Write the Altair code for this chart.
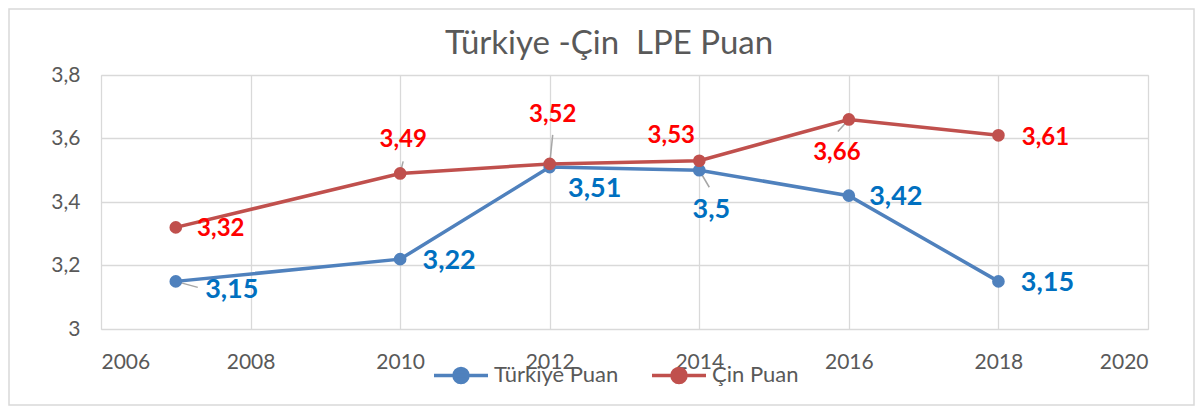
import altair as alt
import pandas as pd

years = [2007, 2010, 2012, 2014, 2016, 2018]
turkiye = [3.15, 3.22, 3.51, 3.50, 3.42, 3.15]
cin = [3.32, 3.49, 3.52, 3.53, 3.66, 3.61]
series_names = ["Türkiye Puan", "Çin Puan"]
x_ticks = [2006, 2008, 2010, 2012, 2014, 2016, 2018, 2020]
y_ticks = [3.0, 3.2, 3.4, 3.6, 3.8]
title_text = "Türkiye -Çin\u00a0 LPE Puan"

line_colors = ["#4F81BD", "#C0504D"]
label_colors = ["#0070C0", "#FF0000"]

rows = []
for s, vals in zip(series_names, [turkiye, cin]):
    for y, v in zip(years, vals):
        rows.append({"year": y, "value": v, "series": s,
                     "label": f"{v:g}".replace(".", ",")})
df = pd.DataFrame(rows)

W, H = 1047, 254
PL, PT, PR, PB = 93, 67, 47, 77

xs = alt.Scale(domain=[2006, 2020], nice=False, zero=False)
ys = alt.Scale(domain=[3.0, 3.8], nice=False, zero=False)
cs = alt.Scale(domain=series_names, range=line_colors)

X = alt.X("year:Q", scale=xs, axis=alt.Axis(values=x_ticks, format="d", title=None,
          labelFontSize=21, labelColor="#595959", labelFont="Lato", domain=False,
          ticks=False, labelPadding=22, gridColor="#d9d9d9", gridWidth=1.3))
Y = alt.Y("value:Q", scale=ys, axis=alt.Axis(values=y_ticks, title=None,
          labelExpr="replace(format(datum.value, '~g'), '.', ',')",
          labelFontSize=21, labelColor="#595959", labelFont="Lato", domain=False,
          ticks=False, labelPadding=21, gridColor="#d9d9d9", gridWidth=1.3))

base = alt.Chart(df)

legend_path = "M-1,0L1,0M-0.26,0A0.26,0.26,0,1,1,0.26,0A0.26,0.26,0,1,1,-0.26,0Z"

lines = base.mark_line(strokeWidth=3.5).encode(
    x=X, y=Y,
    color=alt.Color("series:N", scale=cs, sort=series_names, legend=alt.Legend(
        title=None, orient="none", legendX=331, legendY=271, direction="horizontal",
        symbolType=legend_path, symbolSize=2916, symbolStrokeWidth=3.5,
        labelFontSize=22, labelColor="#595959", labelFont="Lato", labelOffset=4,
        columnPadding=26, padding=0)),
    detail="series:N",
)
points = base.mark_point(filled=True, size=160, opacity=1).encode(
    x="year:Q", y="value:Q",
    color=alt.Color("series:N", scale=cs, sort=series_names),
)

# label offsets (dx, dy) and leader line offsets, per series in year order
label_off = {
    "Türkiye Puan": [(56, 9), (49, 2), (45, 22), (12, 40), (47, 1), (49, 2)],
    "Çin Puan": [(45, 2), (3, -33), (3, -49), (-28, -25), (-12, 34), (47, 3)],
}
leader_off = {
    ("Türkiye Puan", 2007): (22, 6),
    ("Çin Puan", 2010): (3, -12),
    ("Çin Puan", 2012): (3, -29),
    ("Türkiye Puan", 2014): (10, 17),
    ("Çin Puan", 2016): (-11, 12),
}
label_size = {"Türkiye Puan": 27, "Çin Puan": 24}

layers = []
for (s, yr), (ox, oy) in leader_off.items():
    layers.append(base.transform_filter(
        (alt.datum.series == s) & (alt.datum.year == yr)
    ).mark_rule(color="#a6a6a6", strokeWidth=1.5, x2Offset=ox, y2Offset=oy).encode(
        x="year:Q", y="value:Q", x2="year:Q", y2="value:Q"))

layers += [lines, points]

for si, s in enumerate(series_names):
    for yr, (dx, dy) in zip(years, label_off[s]):
        layers.append(base.transform_filter(
            (alt.datum.series == s) & (alt.datum.year == yr)
        ).mark_text(dx=dx, dy=dy, fontSize=label_size[s], fontWeight="bold",
                    font="Lato", color=label_colors[si], align="center",
                    baseline="middle").encode(
            x="year:Q", y="value:Q", text="label:N"))

border = alt.Chart(pd.DataFrame({"a": [0]})).mark_rect(
    fill="transparent", stroke="#d9d9d9", strokeWidth=1.5).encode(
    x=alt.value(-PL + 1), x2=alt.value(W + PR - 1),
    y=alt.value(-PT + 1), y2=alt.value(H + PB - 1))

title = alt.Chart(pd.DataFrame({"t": [title_text]})).mark_text(
    fontSize=33, font="Lato", color="#595959", align="center", baseline="alphabetic"
).encode(x=alt.value(609 - 8 - PL), y=alt.value(54 - 8 - PT), text="t:N")

chart = alt.layer(border, title, *layers).properties(
    width=W, height=H,
    padding={"left": PL, "top": PT, "right": PR, "bottom": PB},
    autosize=alt.AutoSizeParams(type="none"),
).configure_view(stroke="#d9d9d9", strokeWidth=1.3).configure(background="white")

chart.save("out.html", embed_options={"renderer": "svg", "actions": False})
